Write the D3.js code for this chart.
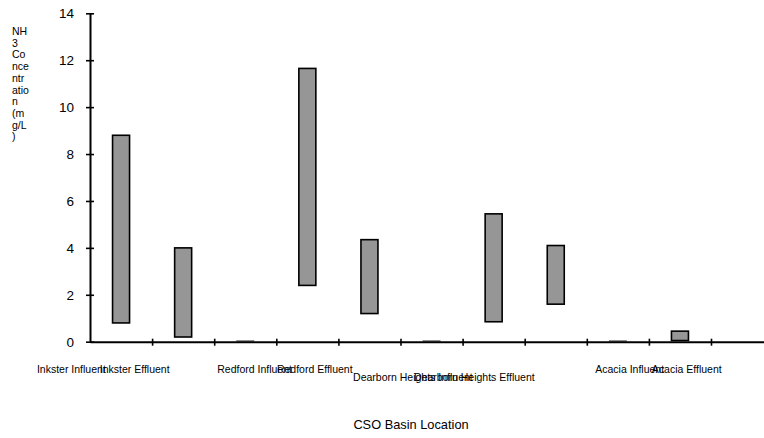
<!DOCTYPE html>
<html>
<head>
<meta charset="utf-8">
<script src="https://cdn.jsdelivr.net/npm/d3@7"></script>
<style>
  body { margin: 0; background: #fff; }
  text { font-family: "Liberation Sans", Arial, sans-serif; fill: #000; }
</style>
</head>
<body>
<div id="chart"></div>
<script>
// Category names (blank slots carry bars but have no label)
const categories = ["Inkster Influent", "Inkster Effluent", "Redford Influent", "Redford Effluent", "",
    "Dearborn Heights Influent", "Dearborn Heights Effluent", "", "Acacia Influent", "Acacia Effluent", ""];
// Floating bar range: low and high NH3 concentration (mg/L)
const lowValues = [0.8, 0.2, 0.03, 2.4, 1.2, 0.03, 0.85, 1.6, 0.03, 0.05, null];
const highValues = [8.8, 4.0, 0.05, 11.65, 4.35, 0.05, 5.45, 4.1, 0.05, 0.45, null];
const yTicks = [0, 2, 4, 6, 8, 10, 12, 14];
const yTitleLines = ["NH", "3", "Co", "nce", "ntr", "atio", "n", "(m", "g/L", ")"];
const xTitle = "CSO Basin Location";

// Label placement, as the original export left it (shift in category widths, row)
const labelShift = [-0.8, -0.78, 0.15, 0.12, 0, -0.3, -0.31, 0, 0.19, 0.11, 0];
const labelRow = [0, 0, 0, 0, 0, 1, 1, 0, 0, 0, 0];

const width = 764, height = 438;
const left = 90, bandW = 62.1, barW = 17;

const svg = d3.select("#chart").append("svg")
    .attr("width", width)
    .attr("height", height);

const x = d3.scaleBand()
    .domain(d3.range(categories.length))
    .range([left, left + bandW * categories.length]);

const y = d3.scaleLinear()
    .domain([0, 14])
    .range([341.7, 13.3]);

// Bars
const data = categories.map((c, i) => ({ i, name: c, low: lowValues[i], high: highValues[i] }))
    .filter(d => d.low != null);

svg.append("g").selectAll("rect")
    .data(data)
    .join("rect")
    .attr("x", d => x(d.i) + (x.bandwidth() - barW) / 2)
    .attr("width", barW)
    .attr("y", d => y(d.high))
    .attr("height", d => Math.max(y(d.low) - y(d.high), 1))
    .attr("fill", "#969696")
    .attr("stroke", d => (d.high - d.low) < 0.1 ? "#808080" : "#000")
    .attr("stroke-width", d => (d.high - d.low) < 0.1 ? 0.8 : 1.6);

// X axis with tick marks at category boundaries
const xb = d3.scaleLinear()
    .domain([0, categories.length])
    .range([left, left + bandW * categories.length]);

const xAxis = svg.append("g")
    .attr("transform", `translate(0, ${y(0)})`)
    .call(d3.axisBottom(xb).tickValues(d3.range(1, categories.length)).tickFormat("").tickSizeOuter(0));
xAxis.select(".domain").attr("stroke-width", 2);
xAxis.selectAll(".tick line").attr("y1", -3).attr("y2", 4).attr("stroke-width", 1.6);

// Y axis
const yAxis = svg.append("g")
    .attr("transform", `translate(${left}, 0)`)
    .call(d3.axisLeft(y).tickValues(yTicks).tickSizeOuter(0).tickPadding(10));
yAxis.select(".domain").attr("stroke-width", 2);
yAxis.selectAll(".tick line").attr("x1", -4).attr("x2", 4).attr("stroke-width", 1.6);
yAxis.selectAll(".tick text")
    .style("font-family", "'Liberation Sans', Arial, sans-serif")
    .style("font-size", "13.5px");

// Category labels
svg.append("g").selectAll("text")
    .data(data.filter(d => d.name !== ""))
    .join("text")
    .attr("x", d => x(d.i) + x.bandwidth() / 2 + labelShift[d.i] * bandW)
    .attr("y", d => 373 + labelRow[d.i] * 8)
    .attr("text-anchor", "middle")
    .style("font-size", "10.5px")
    .text(d => d.name);

// Axis titles
svg.append("text")
    .attr("x", 411)
    .attr("y", 429)
    .attr("text-anchor", "middle")
    .style("font-size", "12.8px")
    .text(xTitle);

svg.append("g").selectAll("text")
    .data(yTitleLines)
    .join("text")
    .attr("x", 12)
    .attr("y", (d, i) => 35 + i * 11.7)
    .style("font-size", "10.5px")
    .text(d => d);
</script>
</body>
</html>
